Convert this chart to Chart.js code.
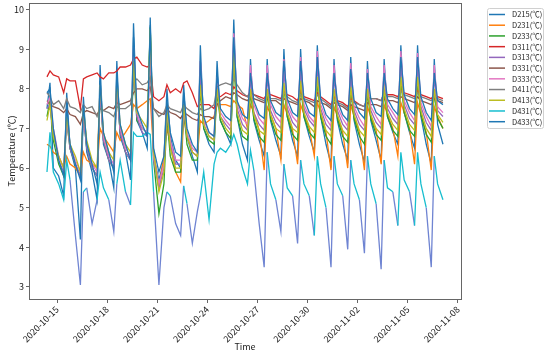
<!DOCTYPE html>
<html>
<head>
<meta charset="utf-8">
<script src="https://cdn.jsdelivr.net/npm/chart.js@4.4.0/dist/chart.umd.min.js"></script>
<style>
  body { margin: 0; background: #fff; }
  canvas { display: block; }
</style>
</head>
<body>
<canvas id="chart" width="550" height="354"></canvas>
<script>
// 時刻（2020-10-15 00:00 からの日数）
const firstDayTimes = [-0.6, -0.42, -0.22];
const dayOffsets = [0.1, 0.4, 0.58, 0.78];
const lastTime = 23.1;
const xTicks = [0, 3, 6, 9, 12, 15, 18, 21, 24];
const yTicks = [3, 4, 5, 6, 7, 8, 9, 10];

const seriesNames = ['D215(℃)', 'D231(℃)', 'D233(℃)', 'D311(℃)', 'D313(℃)', 'D331(℃)',
                     'D333(℃)', 'D411(℃)', 'D413(℃)', 'D431(℃)', 'D433(℃)'];
const seriesColors = ['#1f77b4', '#ff7f0e', '#2ca02c', '#d62728', '#9467bd', '#8c564b',
                      '#e377c2', '#7f7f7f', '#bcbd22', '#17becf', '#1f77b4'];

// 各系列の値（1行 = 1日）
const d215 = [7.5, 8.15, 6.0,
  5.8, 5.3, 7.9, 6.5,   6.0, 4.2, 7.8, 6.4,   5.9, 5.2, 8.6, 6.6,   6.2, 5.5, 8.7, 6.8,
  6.4, 5.7, 9.65, 7.2,  6.9, 6.5, 9.8, 6.3,   5.7, 6.2, 8.0, 6.8,   6.2, 6.0, 8.1, 6.8,
  6.3, 5.9, 9.1, 7.0,   6.6, 6.4, 8.7, 7.2,   6.9, 6.6, 9.75, 7.3,  6.6, 6.2, 8.75, 7.2,
  6.7, 6.3, 8.75, 7.2,  6.7, 6.3, 9.0, 7.3,   6.7, 6.3, 9.0, 7.3,   6.8, 6.4, 9.1, 7.3,
  6.6, 6.1, 8.75, 7.2,  6.6, 6.2, 8.8, 7.2,   6.6, 6.15, 8.7, 7.2,  6.7, 6.2, 8.75, 7.3,
  6.9, 6.6, 9.1, 7.4,   6.9, 6.5, 9.1, 7.3,   6.6, 6.1, 8.75, 7.1,
  6.6];
const d231 = [6.6, 6.55, 6.4,
  6.3, 6.0, 6.3, 6.1,   6.0, 5.8, 6.4, 6.2,   6.1, 6.0, 7.0, 6.8,   6.6, 6.4, 6.9, 6.7,
  6.9, 7.1, 7.6, 7.5,   7.6, 7.7, 7.75, 6.4,  5.5, 6.3, 7.0, 6.6,   5.9, 5.65, 7.3, 6.8,
  6.4, 6.3, 7.2, 7.1,   7.2, 7.3, 7.6, 7.6,   7.6, 7.55, 7.7, 7.6,  7.5, 7.0, 7.6, 7.4,
  6.95, 5.95, 7.55, 7.35, 7.0, 6.2, 7.6, 7.35, 6.95, 6.1, 7.6, 7.35, 7.0, 6.3, 7.65, 7.4,
  6.9, 5.95, 7.55, 7.3, 6.9, 6.0, 7.6, 7.3,   6.9, 5.95, 7.55, 7.3, 6.95, 6.1, 7.6, 7.35,
  7.0, 6.3, 7.65, 7.4,  7.0, 6.1, 7.65, 7.35, 6.9, 5.95, 7.55, 7.3,
  7.0];
const d233 = [7.3, 7.7, 6.7,
  6.1, 5.8, 7.2, 6.5,   6.1, 5.8, 7.3, 6.5,   6.0, 5.8, 7.9, 6.7,   6.2, 6.0, 8.0, 6.9,
  6.4, 6.2, 8.6, 7.2,   7.0, 6.9, 9.55, 6.2,  4.85, 5.6, 7.3, 6.3,  5.9, 5.9, 7.5, 6.6,
  6.2, 6.2, 8.0, 7.0,   6.7, 6.6, 7.9, 7.2,   6.9, 6.75, 8.7, 7.3,  6.8, 6.7, 7.9, 7.25,
  6.8, 6.65, 7.9, 7.25, 6.85, 6.7, 8.05, 7.3, 6.85, 6.7, 8.1, 7.3, 6.9, 6.75, 8.2, 7.3,
  6.8, 6.6, 7.9, 7.25,  6.8, 6.65, 7.95, 7.25, 6.8, 6.6, 7.9, 7.25, 6.85, 6.7, 7.9, 7.3,
  6.95, 6.8, 8.2, 7.4,  6.95, 6.8, 8.2, 7.35, 6.85, 6.65, 7.9, 7.25,
  7.0];
const d311 = [8.3, 8.45, 8.35,
  8.3, 7.9, 8.25, 8.2,  8.2, 7.5, 8.25, 8.3,  8.35, 8.4, 8.3, 8.25, 8.4, 8.4, 8.45, 8.55,
  8.55, 8.6, 8.75, 8.8, 8.6, 8.55, 8.6, 7.8,  7.7, 7.8, 8.1, 7.9,   8.0, 7.9, 8.15, 8.2,
  7.9, 7.55, 7.6, 7.6,  7.6, 7.5, 7.8, 7.8,   7.9, 7.85, 8.05, 7.95, 7.85, 7.8, 7.95, 7.85,
  7.8, 7.75, 7.9, 7.85, 7.8, 7.75, 7.95, 7.85, 7.8, 7.7, 7.95, 7.8, 7.75, 7.7, 7.9, 7.8,
  7.7, 7.6, 7.8, 7.7,   7.65, 7.55, 7.75, 7.7, 7.6, 7.55, 7.8, 7.75, 7.75, 7.7, 7.9, 7.85,
  7.85, 7.8, 7.95, 7.9, 7.85, 7.8, 7.95, 7.85, 7.8, 7.75, 7.85, 7.8,
  7.75];
const d313 = [7.5, 7.6, 6.9,
  6.2, 5.9, 7.2, 6.5,   6.1, 5.8, 7.3, 6.5,   6.0, 5.8, 7.9, 6.7,   6.2, 6.0, 8.0, 6.9,
  6.4, 6.2, 8.7, 7.3,   6.9, 6.8, 8.9, 6.2,   5.5, 6.0, 7.4, 6.6,   6.1, 6.1, 7.5, 6.8,
  6.4, 6.3, 8.4, 7.1,   6.8, 6.7, 8.1, 7.3,   7.1, 6.95, 9.0, 7.5,  7.1, 6.95, 8.3, 7.4,
  7.1, 6.95, 8.3, 7.45, 7.15, 7.0, 8.45, 7.5, 7.15, 7.0, 8.5, 7.5, 7.2, 7.05, 8.6, 7.5,
  7.1, 6.95, 8.3, 7.45, 7.1, 6.95, 8.35, 7.45, 7.1, 6.95, 8.25, 7.45, 7.15, 7.0, 8.3, 7.5,
  7.25, 7.1, 8.6, 7.6,  7.25, 7.1, 8.6, 7.55, 7.15, 6.95, 8.3, 7.45,
  7.3];
const d331 = [7.7, 7.6, 7.55,
  7.5, 7.4, 7.5, 7.35,  7.3, 7.1, 7.4, 7.45,  7.4, 7.35, 7.5, 7.45, 7.55, 7.5, 7.65, 7.6,
  7.65, 7.7, 7.9, 8.0,  8.0, 7.95, 8.05, 7.5, 7.4, 7.35, 7.5, 7.4,  7.35, 7.25, 7.4, 7.35,
  7.25, 7.2, 7.35, 7.3, 7.3, 7.25, 7.6, 7.7,  7.8, 7.75, 7.9, 7.85, 7.75, 7.7, 7.8, 7.75,
  7.7, 7.65, 7.75, 7.7, 7.7, 7.6, 7.75, 7.7,  7.65, 7.6, 7.75, 7.7, 7.65, 7.55, 7.7, 7.65,
  7.6, 7.5, 7.65, 7.6,  7.55, 7.45, 7.6, 7.55, 7.5, 7.45, 7.65, 7.6, 7.6, 7.55, 7.75, 7.7,
  7.7, 7.65, 7.8, 7.75, 7.7, 7.65, 7.8, 7.7,  7.65, 7.6, 7.75, 7.7,
  7.65];
const d333 = [7.6, 7.8, 7.0,
  6.3, 6.0, 7.3, 6.6,   6.2, 5.9, 7.4, 6.6,   6.1, 5.9, 8.1, 6.8,   6.3, 6.1, 8.2, 7.0,
  6.5, 6.3, 9.05, 7.4,  7.0, 6.9, 9.1, 6.3,   5.6, 6.1, 7.6, 6.7,   6.2, 6.2, 7.6, 6.9,
  6.5, 6.4, 8.7, 7.2,   6.9, 6.8, 8.3, 7.4,   7.2, 7.05, 9.4, 7.6,  7.25, 7.1, 8.6, 7.6,
  7.25, 7.1, 8.6, 7.6,  7.3, 7.15, 8.75, 7.6, 7.3, 7.15, 8.8, 7.6,  7.3, 7.15, 8.95, 7.6,
  7.25, 7.05, 8.6, 7.55, 7.25, 7.05, 8.65, 7.55, 7.25, 7.05, 8.5, 7.55, 7.3, 7.1, 8.6, 7.6,
  7.4, 7.2, 8.95, 7.7,  7.4, 7.2, 8.9, 7.65,  7.3, 7.05, 8.6, 7.55,
  7.4];
const d411 = [7.9, 7.8, 7.6,
  7.7, 7.5, 7.75, 7.55, 7.5, 7.4, 7.6, 7.5,   7.55, 7.3, 7.5, 7.45, 7.4, 7.3, 7.55, 7.5,
  7.5, 7.6, 8.15, 8.25, 8.1, 8.15, 8.3, 7.5,  7.3, 7.4, 7.6, 7.5,   7.45, 7.4, 7.6, 7.5,
  7.4, 7.35, 7.5, 7.45, 7.5, 7.6, 8.05, 8.1,  8.15, 8.1, 8.25, 8.1, 7.9, 7.8, 7.9, 7.85,
  7.75, 7.7, 7.85, 7.75, 7.75, 7.7, 7.9, 7.8, 7.7, 7.65, 7.85, 7.75, 7.7, 7.65, 7.85, 7.75,
  7.65, 7.55, 7.75, 7.65, 7.6, 7.5, 7.7, 7.65, 7.6, 7.55, 7.8, 7.75, 7.75, 7.7, 7.9, 7.8,
  7.8, 7.75, 7.95, 7.85, 7.8, 7.75, 7.9, 7.8, 7.75, 7.7, 7.8, 7.75,
  7.7];
const d413 = [7.2, 7.6, 6.8,
  6.3, 6.0, 7.3, 6.6,   6.3, 5.9, 7.5, 6.7,   6.2, 6.0, 8.1, 6.9,   6.4, 6.2, 8.2, 7.1,
  6.6, 6.4, 8.7, 7.4,   7.2, 7.0, 9.5, 6.4,   5.4, 5.9, 7.5, 6.5,   6.0, 6.0, 7.6, 6.8,
  6.4, 6.3, 8.1, 7.1,   6.8, 6.7, 8.0, 7.3,   7.0, 6.85, 8.9, 7.4,  6.95, 6.85, 8.0, 7.35,
  6.95, 6.85, 8.0, 7.35, 7.0, 6.9, 8.15, 7.4, 7.0, 6.9, 8.2, 7.4,   7.05, 6.9, 8.3, 7.4,
  6.95, 6.8, 8.0, 7.35, 6.95, 6.8, 8.05, 7.35, 6.95, 6.8, 8.0, 7.35, 7.0, 6.85, 8.0, 7.4,
  7.1, 6.95, 8.3, 7.5,  7.1, 6.95, 8.3, 7.45, 7.0, 6.8, 8.0, 7.35,
  7.15];
const d431 = [5.9, 6.9, 5.9,
  5.6, 5.2, 6.2, 5.7,   4.3, 3.05, 5.4, 5.5,  4.6, 5.2, 5.9, 5.5,   5.2, 4.4, 5.6, 6.2,
  5.4, 5.07, 6.9, 6.8,  6.8, 6.9, 6.85, 5.4,  3.05, 5.0, 5.4, 5.3,  4.6, 4.3, 5.55, 5.1,
  4.1, 4.9, 5.3, 5.9,   4.7, 6.1, 6.4, 6.5,   6.4, 6.6, 6.85, 6.6,  6.0, 5.6, 6.45, 5.95,
  4.6, 3.5, 6.4, 5.6,   5.2, 4.4, 6.1, 5.5,   5.3, 4.1, 6.2, 5.6,   5.3, 4.3, 6.3, 5.6,
  5.0, 3.5, 6.3, 5.6,   5.3, 3.95, 6.2, 5.6,  5.2, 3.85, 6.3, 5.6,  5.1, 3.45, 6.2, 5.5,
  5.4, 4.55, 6.4, 5.7,  5.4, 4.55, 6.4, 5.6,  5.0, 3.5, 6.3, 5.6,
  5.2];
const d433 = [7.9, 8.0, 7.0,
  6.2, 5.8, 7.6, 6.6,   6.1, 5.7, 7.6, 6.6,   6.1, 5.6, 8.2, 6.9,   6.4, 5.9, 8.4, 7.1,
  6.6, 6.2, 9.3, 7.5,   7.1, 6.8, 9.6, 6.5,   5.9, 6.3, 7.7, 6.9,   6.4, 6.3, 7.9, 7.0,
  6.6, 6.4, 8.7, 7.3,   6.9, 6.8, 8.4, 7.5,   7.3, 7.2, 9.3, 7.7,   7.35, 7.25, 8.4, 7.7,
  7.35, 7.25, 8.4, 7.7, 7.4, 7.3, 8.7, 7.75,  7.4, 7.3, 8.7, 7.75,  7.4, 7.3, 8.8, 7.75,
  7.35, 7.2, 8.4, 7.7,  7.35, 7.2, 8.5, 7.7,  7.4, 7.25, 8.4, 7.75, 7.4, 7.3, 8.4, 7.75,
  7.5, 7.35, 8.8, 7.85, 7.5, 7.35, 8.8, 7.8,  7.4, 7.2, 8.4, 7.7,
  7.6];

const seriesValues = [d215, d231, d233, d311, d313, d331, d333, d411, d413, d431, d433];

// x座標の配列を作る
const times = [...firstDayTimes];
for (let d = 0; d <= 22; d++) {
    dayOffsets.forEach(o => times.push(d + o));
}
times.push(lastTime);

const baseDate = Date.UTC(2020, 9, 15);
function dayToLabel(v) {
    return new Date(baseDate + v * 86400000).toISOString().slice(0, 10);
}

const fontFamily = "'Noto Sans CJK SC', 'DejaVu Sans', sans-serif";
const axisColor = '#666';
const lowLineColor = '#6f84d2';   // D431 の低い部分（元画像では青紫に見える）

// 枠線と凡例
const framePlugin = {
    id: 'frame',
    afterDraw(chart) {
        const { ctx, chartArea: a } = chart;
        ctx.save();
        ctx.strokeStyle = axisColor;
        ctx.lineWidth = 1;
        ctx.strokeRect(Math.round(a.left) + 0.5, Math.round(a.top) + 0.5,
                       Math.round(a.right - a.left), Math.round(a.bottom - a.top));

        // 凡例
        const bx = 487.5, by = 8.5, bw = 56, bh = 120;
        ctx.fillStyle = '#fff';
        ctx.strokeStyle = '#d0d0d0';
        ctx.beginPath();
        ctx.roundRect(bx, by, bw, bh, 2);
        ctx.fill();
        ctx.stroke();
        ctx.font = '7.5px ' + fontFamily;
        ctx.textBaseline = 'middle';
        seriesNames.forEach((name, i) => {
            const y = 14.5 + i * 10.72;
            ctx.strokeStyle = seriesColors[i];
            ctx.lineWidth = 1.5;
            ctx.beginPath();
            ctx.moveTo(489, y);
            ctx.lineTo(505, y);
            ctx.stroke();
            ctx.fillStyle = '#222';
            ctx.fillText(name, 512, y);
        });
        ctx.restore();
    }
};

const datasets = seriesValues.map((vals, i) => {
    const ds = {
        label: seriesNames[i],
        data: times.map((t, j) => ({ x: t, y: vals[j] })),
        borderColor: seriesColors[i],
        backgroundColor: seriesColors[i],
        borderWidth: 1.3,
        pointRadius: 0,
        tension: 0,
        fill: false,
        order: seriesValues.length - i
    };
    if (i === 9) {
        ds.segment = {
            borderColor: c => ((c.p0.parsed.y + c.p1.parsed.y) / 2 < 5.3 ? lowLineColor : undefined)
        };
    }
    return ds;
});

new Chart(document.getElementById('chart'), {
    type: 'line',
    data: { datasets },
    options: {
        responsive: false,
        animation: false,
        layout: { padding: { left: 0, right: 89, top: 3, bottom: 0 } },
        plugins: {
            legend: { display: false },
            tooltip: { enabled: false }
        },
        scales: {
            x: {
                type: 'linear',
                min: -1.676,
                max: 24.18,
                afterBuildTicks: axis => { axis.ticks = xTicks.map(v => ({ value: v })); },
                afterFit: scale => { scale.height = 55; scale.paddingLeft = 0; scale.paddingRight = 0; },
                ticks: {
                    minRotation: 45,
                    maxRotation: 45,
                    autoSkip: false,
                    padding: 1,
                    color: '#222',
                    font: { family: fontFamily, size: 9 },
                    callback: v => dayToLabel(v)
                },
                grid: { drawOnChartArea: false, drawTicks: true, tickLength: 4, color: axisColor },
                border: { display: false },
                title: {
                    display: true,
                    text: 'Time',
                    color: '#222',
                    font: { family: fontFamily, size: 9 },
                    padding: { top: 0, bottom: 2 }
                }
            },
            y: {
                min: 2.697,
                max: 10.164,
                afterBuildTicks: axis => { axis.ticks = yTicks.map(v => ({ value: v })); },
                afterFit: scale => { scale.width = 29; scale.paddingTop = 0; scale.paddingBottom = 0; },
                ticks: {
                    padding: 2,
                    color: '#222',
                    font: { family: fontFamily, size: 9 }
                },
                grid: { drawOnChartArea: false, drawTicks: true, tickLength: 3, color: axisColor },
                border: { display: false },
                title: {
                    display: true,
                    text: 'Temperature (℃)',
                    color: '#222',
                    font: { family: fontFamily, size: 9 },
                    padding: { top: 6, bottom: 0 }
                }
            }
        }
    },
    plugins: [framePlugin]
});
</script>
</body>
</html>
